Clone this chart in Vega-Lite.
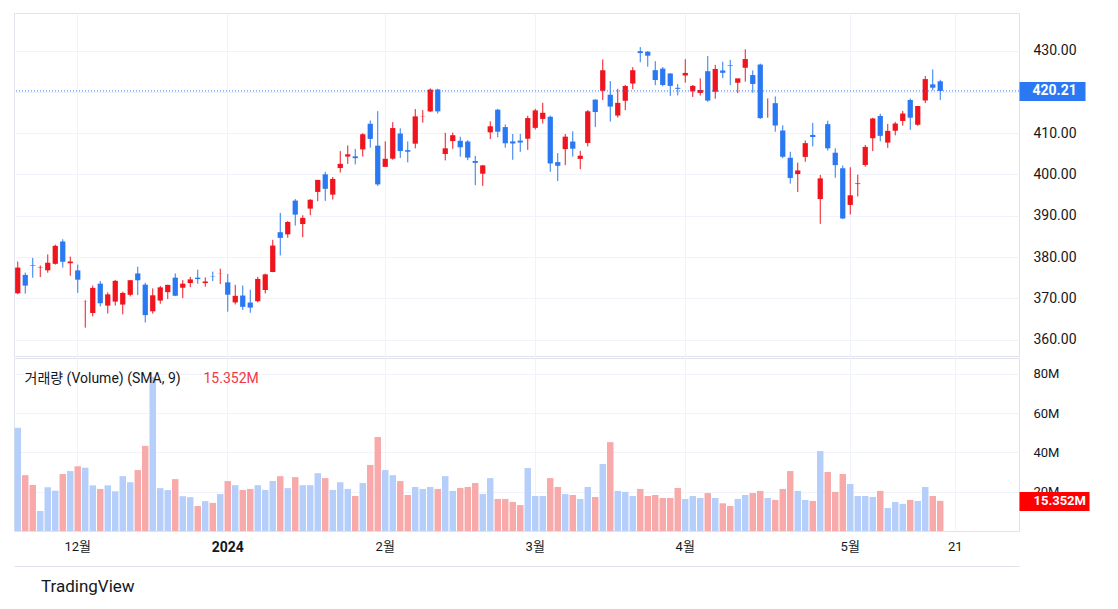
{
  "$schema": "https://vega.github.io/schema/vega-lite/v6.json",
  "background": "#ffffff",
  "padding": {"left": 13, "top": 12, "right": 0, "bottom": 4},
  "spacing": 0,
  "title": {"text": "TradingView", "orient": "bottom", "anchor": "start", "fontSize": 17, "font": "Roboto", "fontWeight": "normal", "color": "#131722", "dx": 28, "offset": 12},
  "data": {"values": [
    {"d":"2023-11-20","o":371.22,"h":378.87,"l":371.00,"c":377.44,"v":52.5},
    {"d":"2023-11-21","o":375.67,"h":376.22,"l":371.12,"c":373.07,"v":28.4},
    {"d":"2023-11-22","o":378.00,"h":379.79,"l":374.97,"c":377.85,"v":23.4},
    {"d":"2023-11-24","o":377.33,"h":377.97,"l":375.14,"c":377.43,"v":10.2},
    {"d":"2023-11-27","o":376.78,"h":380.64,"l":376.20,"c":378.61,"v":22.2},
    {"d":"2023-11-28","o":378.35,"h":383.00,"l":378.16,"c":382.70,"v":20.5},
    {"d":"2023-11-29","o":383.76,"h":384.30,"l":377.44,"c":378.85,"v":29.0},
    {"d":"2023-11-30","o":378.49,"h":380.09,"l":375.47,"c":378.91,"v":30.5},
    {"d":"2023-12-01","o":376.76,"h":378.16,"l":371.31,"c":374.51,"v":33.0},
    {"d":"2023-12-04","o":369.10,"h":369.52,"l":362.90,"c":369.14,"v":32.2},
    {"d":"2023-12-05","o":366.45,"h":373.08,"l":365.62,"c":372.52,"v":23.2},
    {"d":"2023-12-06","o":373.54,"h":374.18,"l":368.03,"c":368.80,"v":21.4},
    {"d":"2023-12-07","o":368.23,"h":371.45,"l":366.32,"c":370.95,"v":23.2},
    {"d":"2023-12-08","o":369.20,"h":374.46,"l":368.23,"c":374.23,"v":20.2},
    {"d":"2023-12-11","o":368.48,"h":371.60,"l":366.10,"c":371.30,"v":27.9},
    {"d":"2023-12-12","o":370.85,"h":374.42,"l":370.46,"c":374.38,"v":24.8},
    {"d":"2023-12-13","o":376.02,"h":377.64,"l":370.77,"c":374.37,"v":31.0},
    {"d":"2023-12-14","o":373.31,"h":373.76,"l":364.13,"c":365.93,"v":43.3},
    {"d":"2023-12-15","o":366.85,"h":372.40,"l":366.28,"c":370.73,"v":78.5},
    {"d":"2023-12-18","o":369.45,"h":373.00,"l":368.68,"c":372.65,"v":21.8},
    {"d":"2023-12-19","o":371.49,"h":373.26,"l":369.84,"c":373.26,"v":20.8},
    {"d":"2023-12-20","o":375.00,"h":376.03,"l":370.53,"c":370.62,"v":26.4},
    {"d":"2023-12-21","o":372.56,"h":374.41,"l":370.04,"c":373.54,"v":17.7},
    {"d":"2023-12-22","o":373.68,"h":375.18,"l":372.71,"c":374.58,"v":17.2},
    {"d":"2023-12-26","o":375.00,"h":376.94,"l":373.50,"c":374.66,"v":12.7},
    {"d":"2023-12-27","o":373.69,"h":375.06,"l":372.81,"c":374.07,"v":15.2},
    {"d":"2023-12-28","o":375.37,"h":376.46,"l":374.16,"c":375.28,"v":14.3},
    {"d":"2023-12-29","o":376.00,"h":377.16,"l":373.48,"c":376.04,"v":18.8},
    {"d":"2024-01-02","o":373.86,"h":375.90,"l":366.77,"c":370.87,"v":25.4},
    {"d":"2024-01-03","o":369.01,"h":373.26,"l":368.51,"c":370.60,"v":23.3},
    {"d":"2024-01-04","o":370.67,"h":373.10,"l":367.17,"c":367.94,"v":20.9},
    {"d":"2024-01-05","o":368.97,"h":372.06,"l":366.50,"c":367.75,"v":21.4},
    {"d":"2024-01-08","o":369.30,"h":375.20,"l":369.01,"c":374.69,"v":23.3},
    {"d":"2024-01-09","o":372.01,"h":375.99,"l":371.19,"c":375.79,"v":20.9},
    {"d":"2024-01-10","o":376.37,"h":384.17,"l":376.32,"c":382.77,"v":25.4},
    {"d":"2024-01-11","o":386.00,"h":390.68,"l":380.38,"c":384.63,"v":27.9},
    {"d":"2024-01-12","o":385.49,"h":388.68,"l":384.65,"c":388.47,"v":21.8},
    {"d":"2024-01-16","o":393.66,"h":394.03,"l":387.62,"c":390.27,"v":27.4},
    {"d":"2024-01-17","o":387.98,"h":390.11,"l":384.81,"c":389.47,"v":23.3},
    {"d":"2024-01-18","o":391.72,"h":393.99,"l":390.12,"c":393.87,"v":23.3},
    {"d":"2024-01-19","o":395.76,"h":398.67,"l":393.50,"c":398.67,"v":29.4},
    {"d":"2024-01-22","o":400.02,"h":400.62,"l":393.59,"c":396.51,"v":26.9},
    {"d":"2024-01-23","o":395.10,"h":399.35,"l":393.91,"c":398.90,"v":20.9},
    {"d":"2024-01-24","o":401.54,"h":405.63,"l":400.45,"c":402.56,"v":24.8},
    {"d":"2024-01-25","o":404.32,"h":407.01,"l":402.53,"c":404.87,"v":21.4},
    {"d":"2024-01-26","o":404.37,"h":406.17,"l":402.43,"c":403.93,"v":17.8},
    {"d":"2024-01-29","o":406.06,"h":409.98,"l":404.33,"c":409.72,"v":24.4},
    {"d":"2024-01-30","o":412.26,"h":413.05,"l":406.45,"c":408.59,"v":33.6},
    {"d":"2024-01-31","o":406.96,"h":415.32,"l":397.21,"c":397.58,"v":47.8},
    {"d":"2024-02-01","o":401.83,"h":408.00,"l":401.80,"c":403.78,"v":31.0},
    {"d":"2024-02-02","o":403.81,"h":412.65,"l":403.56,"c":411.22,"v":28.4},
    {"d":"2024-02-05","o":409.90,"h":411.16,"l":403.99,"c":405.65,"v":25.4},
    {"d":"2024-02-06","o":405.88,"h":407.97,"l":402.91,"c":405.49,"v":18.3},
    {"d":"2024-02-07","o":407.44,"h":415.82,"l":406.29,"c":414.05,"v":22.4},
    {"d":"2024-02-08","o":414.05,"h":415.56,"l":412.53,"c":414.11,"v":21.4},
    {"d":"2024-02-09","o":415.25,"h":420.82,"l":415.09,"c":420.55,"v":22.4},
    {"d":"2024-02-12","o":420.56,"h":420.74,"l":414.75,"c":415.26,"v":21.4},
    {"d":"2024-02-13","o":404.94,"h":410.07,"l":403.39,"c":406.32,"v":27.9},
    {"d":"2024-02-14","o":408.07,"h":410.12,"l":406.19,"c":409.49,"v":20.4},
    {"d":"2024-02-15","o":408.14,"h":409.13,"l":404.29,"c":406.56,"v":21.9},
    {"d":"2024-02-16","o":407.96,"h":408.29,"l":403.44,"c":404.06,"v":22.4},
    {"d":"2024-02-20","o":403.24,"h":404.49,"l":397.38,"c":402.79,"v":24.4},
    {"d":"2024-02-21","o":400.17,"h":402.29,"l":397.22,"c":402.18,"v":18.8},
    {"d":"2024-02-22","o":410.19,"h":412.83,"l":408.57,"c":411.65,"v":26.9},
    {"d":"2024-02-23","o":415.67,"h":415.86,"l":408.97,"c":410.34,"v":16.3},
    {"d":"2024-02-26","o":411.46,"h":412.08,"l":406.46,"c":407.54,"v":16.3},
    {"d":"2024-02-27","o":407.99,"h":409.78,"l":403.54,"c":407.48,"v":14.8},
    {"d":"2024-02-28","o":408.18,"h":409.80,"l":405.46,"c":407.72,"v":13.2},
    {"d":"2024-02-29","o":408.64,"h":414.20,"l":405.92,"c":413.64,"v":32.0},
    {"d":"2024-03-01","o":411.27,"h":415.87,"l":410.88,"c":415.50,"v":17.8},
    {"d":"2024-03-04","o":413.44,"h":417.35,"l":412.32,"c":414.92,"v":17.8},
    {"d":"2024-03-05","o":413.96,"h":414.25,"l":400.64,"c":402.65,"v":26.9},
    {"d":"2024-03-06","o":402.97,"h":405.16,"l":398.39,"c":402.09,"v":22.4},
    {"d":"2024-03-07","o":406.12,"h":409.78,"l":402.24,"c":409.14,"v":18.8},
    {"d":"2024-03-08","o":407.96,"h":410.42,"l":404.33,"c":406.22,"v":18.3},
    {"d":"2024-03-11","o":403.76,"h":405.68,"l":401.26,"c":404.52,"v":16.3},
    {"d":"2024-03-12","o":407.62,"h":415.57,"l":406.79,"c":415.28,"v":22.4},
    {"d":"2024-03-13","o":418.10,"h":418.18,"l":411.45,"c":415.10,"v":17.3},
    {"d":"2024-03-14","o":420.24,"h":427.82,"l":417.99,"c":425.22,"v":34.1},
    {"d":"2024-03-15","o":419.29,"h":422.60,"l":412.79,"c":416.42,"v":45.2},
    {"d":"2024-03-18","o":414.25,"h":420.73,"l":413.78,"c":417.32,"v":20.4},
    {"d":"2024-03-19","o":417.83,"h":421.67,"l":415.55,"c":421.41,"v":19.9},
    {"d":"2024-03-20","o":422.00,"h":425.96,"l":420.66,"c":425.23,"v":17.8},
    {"d":"2024-03-21","o":429.83,"h":430.82,"l":427.16,"c":429.37,"v":21.4},
    {"d":"2024-03-22","o":429.70,"h":429.86,"l":426.07,"c":428.74,"v":17.8},
    {"d":"2024-03-25","o":425.24,"h":427.41,"l":421.61,"c":422.86,"v":18.3},
    {"d":"2024-03-26","o":425.61,"h":425.99,"l":421.35,"c":421.65,"v":16.8},
    {"d":"2024-03-27","o":424.44,"h":424.45,"l":419.01,"c":421.43,"v":16.8},
    {"d":"2024-03-28","o":420.96,"h":421.87,"l":419.12,"c":420.72,"v":21.9},
    {"d":"2024-04-01","o":423.95,"h":427.89,"l":422.22,"c":424.57,"v":16.3},
    {"d":"2024-04-02","o":420.11,"h":421.65,"l":418.75,"c":421.44,"v":17.8},
    {"d":"2024-04-03","o":419.73,"h":423.26,"l":419.09,"c":420.45,"v":16.8},
    {"d":"2024-04-04","o":424.99,"h":428.67,"l":417.57,"c":417.88,"v":19.3},
    {"d":"2024-04-05","o":420.01,"h":426.51,"l":418.32,"c":425.52,"v":16.8},
    {"d":"2024-04-08","o":425.17,"h":427.28,"l":423.30,"c":424.59,"v":14.1},
    {"d":"2024-04-09","o":426.44,"h":427.74,"l":421.62,"c":426.28,"v":12.7},
    {"d":"2024-04-10","o":422.19,"h":423.04,"l":419.70,"c":423.26,"v":16.3},
    {"d":"2024-04-11","o":425.82,"h":430.29,"l":422.46,"c":427.93,"v":18.3},
    {"d":"2024-04-12","o":424.05,"h":425.18,"l":419.77,"c":421.90,"v":19.3},
    {"d":"2024-04-15","o":426.60,"h":426.82,"l":413.43,"c":413.64,"v":20.4},
    {"d":"2024-04-16","o":414.57,"h":418.40,"l":413.73,"c":414.58,"v":16.8},
    {"d":"2024-04-17","o":417.25,"h":418.88,"l":410.33,"c":411.84,"v":15.8},
    {"d":"2024-04-18","o":410.63,"h":411.89,"l":403.95,"c":404.27,"v":21.4},
    {"d":"2024-04-19","o":404.03,"h":405.48,"l":397.77,"c":399.12,"v":30.5},
    {"d":"2024-04-22","o":400.08,"h":402.85,"l":395.75,"c":400.96,"v":20.4},
    {"d":"2024-04-23","o":404.24,"h":408.20,"l":403.06,"c":407.57,"v":15.8},
    {"d":"2024-04-24","o":409.56,"h":412.47,"l":406.78,"c":409.06,"v":15.3},
    {"d":"2024-04-25","o":394.03,"h":399.89,"l":388.03,"c":399.04,"v":40.7},
    {"d":"2024-04-26","o":412.17,"h":413.00,"l":405.76,"c":406.32,"v":30.0},
    {"d":"2024-04-29","o":405.25,"h":406.32,"l":399.19,"c":402.25,"v":19.9},
    {"d":"2024-04-30","o":401.49,"h":402.16,"l":389.17,"c":389.33,"v":29.0},
    {"d":"2024-05-01","o":392.61,"h":401.72,"l":390.31,"c":394.94,"v":23.9},
    {"d":"2024-05-02","o":397.66,"h":399.93,"l":394.65,"c":397.84,"v":17.8},
    {"d":"2024-05-03","o":402.28,"h":407.15,"l":401.86,"c":406.66,"v":17.8},
    {"d":"2024-05-06","o":408.76,"h":413.72,"l":405.63,"c":413.54,"v":17.3},
    {"d":"2024-05-07","o":414.15,"h":414.68,"l":408.02,"c":409.34,"v":20.4},
    {"d":"2024-05-08","o":407.70,"h":412.23,"l":406.43,"c":410.54,"v":11.7},
    {"d":"2024-05-09","o":410.57,"h":412.72,"l":409.46,"c":412.32,"v":14.8},
    {"d":"2024-05-10","o":412.94,"h":415.38,"l":411.80,"c":414.74,"v":13.8},
    {"d":"2024-05-13","o":418.01,"h":418.35,"l":410.82,"c":413.72,"v":15.8},
    {"d":"2024-05-14","o":412.02,"h":416.59,"l":411.77,"c":416.56,"v":15.3},
    {"d":"2024-05-15","o":417.90,"h":423.81,"l":417.27,"c":423.08,"v":22.4},
    {"d":"2024-05-16","o":421.80,"h":425.42,"l":420.35,"c":420.99,"v":17.8},
    {"d":"2024-05-17","o":422.54,"h":422.92,"l":418.03,"c":420.21,"v":15.352}
  ]},
  "vconcat": [
    {
      "width": 1005,
      "height": 343,
      "layer": [
        {
          "encoding": {
            "x": {"field": "d", "type": "ordinal",
              "scale": {"paddingInner": 0, "paddingOuter": 0, "domain": ["2023-11-20","2023-11-21","2023-11-22","2023-11-24","2023-11-27","2023-11-28","2023-11-29","2023-11-30","2023-12-01","2023-12-04","2023-12-05","2023-12-06","2023-12-07","2023-12-08","2023-12-11","2023-12-12","2023-12-13","2023-12-14","2023-12-15","2023-12-18","2023-12-19","2023-12-20","2023-12-21","2023-12-22","2023-12-26","2023-12-27","2023-12-28","2023-12-29","2024-01-02","2024-01-03","2024-01-04","2024-01-05","2024-01-08","2024-01-09","2024-01-10","2024-01-11","2024-01-12","2024-01-16","2024-01-17","2024-01-18","2024-01-19","2024-01-22","2024-01-23","2024-01-24","2024-01-25","2024-01-26","2024-01-29","2024-01-30","2024-01-31","2024-02-01","2024-02-02","2024-02-05","2024-02-06","2024-02-07","2024-02-08","2024-02-09","2024-02-12","2024-02-13","2024-02-14","2024-02-15","2024-02-16","2024-02-20","2024-02-21","2024-02-22","2024-02-23","2024-02-26","2024-02-27","2024-02-28","2024-02-29","2024-03-01","2024-03-04","2024-03-05","2024-03-06","2024-03-07","2024-03-08","2024-03-11","2024-03-12","2024-03-13","2024-03-14","2024-03-15","2024-03-18","2024-03-19","2024-03-20","2024-03-21","2024-03-22","2024-03-25","2024-03-26","2024-03-27","2024-03-28","2024-04-01","2024-04-02","2024-04-03","2024-04-04","2024-04-05","2024-04-08","2024-04-09","2024-04-10","2024-04-11","2024-04-12","2024-04-15","2024-04-16","2024-04-17","2024-04-18","2024-04-19","2024-04-22","2024-04-23","2024-04-24","2024-04-25","2024-04-26","2024-04-29","2024-04-30","2024-05-01","2024-05-02","2024-05-03","2024-05-06","2024-05-07","2024-05-08","2024-05-09","2024-05-10","2024-05-13","2024-05-14","2024-05-15","2024-05-16","2024-05-17","2024-05-20","2024-05-21","2024-05-22","2024-05-23","2024-05-24","2024-05-28","2024-05-29","2024-05-30","2024-05-31","2024-06-03"]},
              "axis": {"orient": "top", "values": ["2023-12-01","2024-01-02","2024-02-01","2024-03-01","2024-04-01","2024-05-01","2024-05-21"], "bandPosition": 0.5, "grid": true, "labels": false, "ticks": false, "domain": false, "title": null}
            },
            "color": {"condition": {"test": "datum.c >= datum.o", "value": "#f0141e"}, "value": "#2a79f2"}
          },
          "layer": [
            {
              "mark": {"type": "rule", "strokeWidth": 1},
              "encoding": {
                "y": {"field": "l", "type": "quantitative", "scale": {"domain": [356.03, 439.08], "nice": false, "zero": false},
                  "axis": {"orient": "right", "values": [360, 370, 380, 390, 400, 410, 420, 430], "format": ".2f", "labelPadding": 14, "labelFontSize": 14, "grid": true, "title": null}},
                "y2": {"field": "h"}
              }
            },
            {
              "mark": {"type": "bar", "width": {"band": 0.7}},
              "encoding": {
                "y": {"field": "o", "type": "quantitative", "scale": {"domain": [356.03, 439.08], "nice": false, "zero": false},
                  "axis": {"orient": "right", "values": [360, 370, 380, 390, 400, 410, 420, 430], "format": ".2f", "labelPadding": 14, "labelFontSize": 14, "grid": true, "title": null}},
                "y2": {"field": "c"}
              }
            }
          ]
        },
        {
          "transform": [{"filter": "datum.d == '2024-05-17'"}],
          "mark": {"type": "rule", "strokeDash": [1, 2], "color": "#2a79f2", "strokeWidth": 1},
          "encoding": {
            "y": {"field": "c", "type": "quantitative", "scale": {"domain": [356.03, 439.08], "nice": false, "zero": false},
              "axis": {"orient": "right", "values": [420.21], "format": ".2f", "ticks": true, "tickSize": 66, "tickWidth": 19, "tickColor": "#2a79f2", "labelColor": "#ffffff", "labelFontSize": 14, "labelFontWeight": "bold", "labelPadding": -53, "grid": false, "domain": false, "title": null, "zindex": 1}}
          }
        }
      ],
      "resolve": {"scale": {"y": "independent"}, "axis": {"y": "independent"}}
    },
    {
      "width": 1005,
      "height": 173,
      "layer": [
        {
          "mark": {"type": "bar", "width": {"band": 0.86}},
          "encoding": {
            "x": {"field": "d", "type": "ordinal",
              "scale": {"paddingInner": 0, "paddingOuter": 0, "domain": ["2023-11-20","2023-11-21","2023-11-22","2023-11-24","2023-11-27","2023-11-28","2023-11-29","2023-11-30","2023-12-01","2023-12-04","2023-12-05","2023-12-06","2023-12-07","2023-12-08","2023-12-11","2023-12-12","2023-12-13","2023-12-14","2023-12-15","2023-12-18","2023-12-19","2023-12-20","2023-12-21","2023-12-22","2023-12-26","2023-12-27","2023-12-28","2023-12-29","2024-01-02","2024-01-03","2024-01-04","2024-01-05","2024-01-08","2024-01-09","2024-01-10","2024-01-11","2024-01-12","2024-01-16","2024-01-17","2024-01-18","2024-01-19","2024-01-22","2024-01-23","2024-01-24","2024-01-25","2024-01-26","2024-01-29","2024-01-30","2024-01-31","2024-02-01","2024-02-02","2024-02-05","2024-02-06","2024-02-07","2024-02-08","2024-02-09","2024-02-12","2024-02-13","2024-02-14","2024-02-15","2024-02-16","2024-02-20","2024-02-21","2024-02-22","2024-02-23","2024-02-26","2024-02-27","2024-02-28","2024-02-29","2024-03-01","2024-03-04","2024-03-05","2024-03-06","2024-03-07","2024-03-08","2024-03-11","2024-03-12","2024-03-13","2024-03-14","2024-03-15","2024-03-18","2024-03-19","2024-03-20","2024-03-21","2024-03-22","2024-03-25","2024-03-26","2024-03-27","2024-03-28","2024-04-01","2024-04-02","2024-04-03","2024-04-04","2024-04-05","2024-04-08","2024-04-09","2024-04-10","2024-04-11","2024-04-12","2024-04-15","2024-04-16","2024-04-17","2024-04-18","2024-04-19","2024-04-22","2024-04-23","2024-04-24","2024-04-25","2024-04-26","2024-04-29","2024-04-30","2024-05-01","2024-05-02","2024-05-03","2024-05-06","2024-05-07","2024-05-08","2024-05-09","2024-05-10","2024-05-13","2024-05-14","2024-05-15","2024-05-16","2024-05-17","2024-05-20","2024-05-21","2024-05-22","2024-05-23","2024-05-24","2024-05-28","2024-05-29","2024-05-30","2024-05-31","2024-06-03"]},
              "axis": {"values": ["2023-12-01","2024-01-02","2024-02-01","2024-03-01","2024-04-01","2024-05-01","2024-05-21"],
                "labelExpr": "datum.value == '2023-12-01' ? '12월' : datum.value == '2024-01-02' ? '2024' : datum.value == '2024-02-01' ? '2월' : datum.value == '2024-03-01' ? '3월' : datum.value == '2024-04-01' ? '4월' : datum.value == '2024-05-01' ? '5월' : '21'",
                "labelFontWeight": {"condition": {"test": "datum.value == '2024-01-02'", "value": "bold"}, "value": "normal"},
                "labelFontSize": {"condition": {"test": "datum.value == '2024-01-02'", "value": 14}, "value": 13},
                "bandPosition": 0.5, "grid": true, "labelAngle": 0, "labelOverlap": false, "labelFlush": false, "offset": 35, "labelPadding": -26, "ticks": false, "domain": true, "domainColor": "#e0e3eb", "title": null}
            },
            "y": {"field": "v", "type": "quantitative", "scale": {"domain": [0, 88], "nice": false},
              "axis": {"orient": "right", "values": [20, 40, 60, 80], "labelExpr": "datum.value + 'M'", "labelPadding": 14, "grid": true,
                "title": "15.352M", "titleX": -816, "titleY": 20, "titleAngle": 0, "titleAlign": "left", "titleBaseline": "middle", "titleFontSize": 14, "titleFontWeight": "normal", "titleColor": "#f23645", "titleFont": "Roboto, sans-serif"}},
            "color": {"condition": {"test": "datum.c >= datum.o", "value": "#b5cefa"}, "value": "#f8aaaa"}
          }
        },
        {
          "transform": [{"filter": "datum.d == '2024-05-17'"}],
          "mark": {"type": "rule", "opacity": 0},
          "encoding": {
            "y": {"field": "v", "type": "quantitative", "scale": {"domain": [0, 88], "nice": false},
              "axis": {"orient": "right", "values": [15.352], "labelExpr": "format(datum.value, '.3f') + 'M'", "ticks": true, "tickSize": 70, "tickWidth": 19, "tickColor": "#ff0000", "labelColor": "#ffffff", "labelFontWeight": "bold", "labelPadding": -56, "grid": false, "domain": false, "zindex": 1,
                "title": "거래량 (Volume) (SMA, 9)", "titleX": -995, "titleY": 20, "titleAngle": 0, "titleAlign": "left", "titleBaseline": "middle", "titleFontSize": 14, "titleFontWeight": "normal", "titleColor": "#131722", "titleFont": "Roboto, Noto Sans CJK KR, sans-serif"}}
          }
        }
      ],
      "resolve": {"scale": {"y": "independent"}, "axis": {"y": "independent"}}
    }
  ],
  "config": {
    "view": {"stroke": "#e0e3eb"},
    "axis": {"labelFont": "Roboto, Noto Sans CJK KR, sans-serif", "labelFontSize": 13, "labelColor": "#131722", "gridColor": "#f0f3fa", "domain": false, "ticks": false}
  }
}
